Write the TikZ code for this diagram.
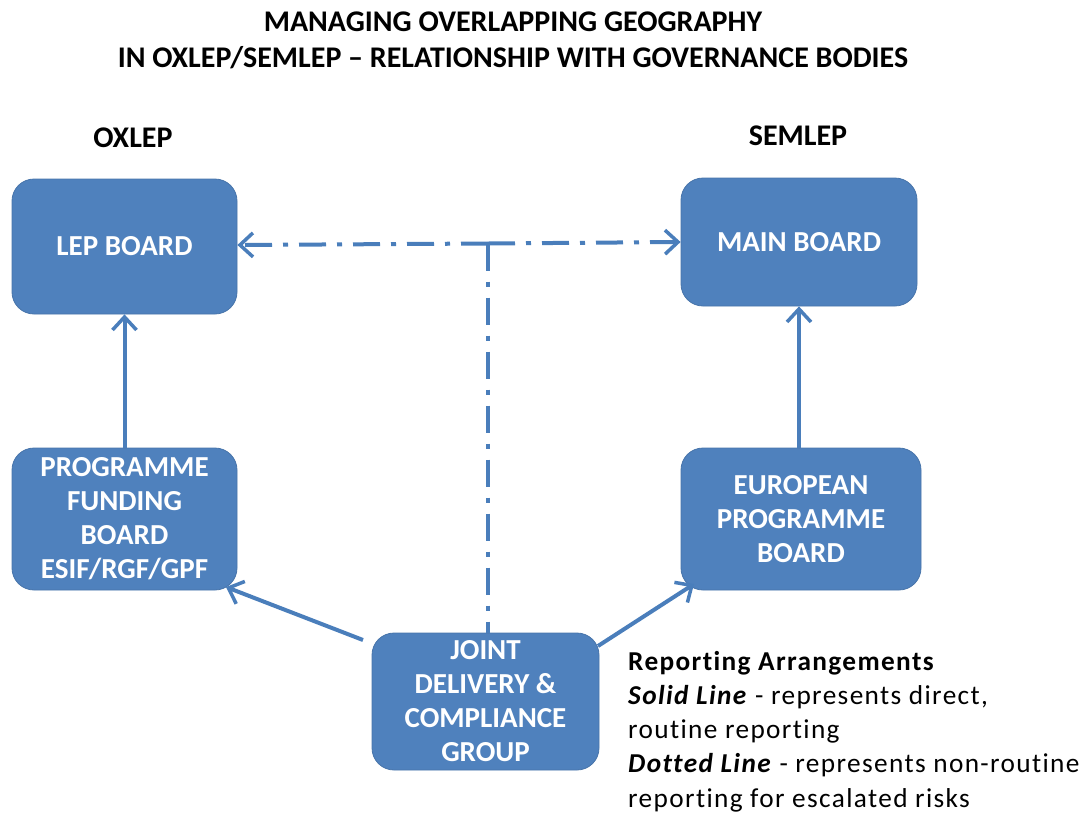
\documentclass[tikz,border=0pt]{standalone}
\usepackage{fontspec}
\setmainfont[Ligatures=NoCommon]{Carlito}
\newfontfamily\legendfamily[Ligatures=NoCommon,LetterSpace=5]{Carlito}
\usetikzlibrary{arrows.meta}
\definecolor{boxblue}{HTML}{4F81BD}
\definecolor{lineblue}{HTML}{4A7EBB}
\begin{document}
\begin{tikzpicture}[x=1pt,y=-1pt,
  board/.style={draw=boxblue!90!black, line width=0.8pt, fill=boxblue, rounded corners=22pt,
    text=white, font=\fontsize{29}{34}\selectfont\bfseries, align=center,
    minimum width=#1, inner sep=0pt},
  board/.default=225pt,
  report/.style={draw=lineblue, line width=4pt, -{Straight Barb[length=13pt,width=24pt,line width=3.5pt]}},
  escal/.style={draw=lineblue, line width=4pt, dash pattern=on 27pt off 11pt on 5pt off 11pt},
  escalarrow/.style={escal, -{Straight Barb[length=13pt,width=24pt,line width=3.5pt]}},
  heading/.style={font=\fontsize{30}{36}\selectfont\bfseries, align=center, text=black},
]
\useasboundingbox (0,0) rectangle (1088,812);

% title
\node[heading] (title) at (513,40) {MANAGING OVERLAPPING GEOGRAPHY\\IN OXLEP/SEMLEP -- RELATIONSHIP WITH GOVERNANCE BODIES};

% partnership labels
\node[heading] (oxlep) at (133,138) {OXLEP};
\node[heading] (semlep) at (798,136) {SEMLEP};

% governance bodies
\node[board, minimum height=135pt] (lep) at (124.5,246.5) {LEP BOARD};
\node[board=236pt, minimum height=128pt] (main) at (799,242) {MAIN BOARD};
\node[board, minimum height=142pt] (pfb) at (124.5,519) {PROGRAMME\\FUNDING\\BOARD\\ESIF/RGF/GPF};
\node[board=240pt, minimum height=142pt] (epb) at (801,519) {EUROPEAN\\PROGRAMME\\BOARD};
\node[board=227pt, minimum height=137pt] (jdc) at (485.5,701.5) {JOINT\\DELIVERY \&\\COMPLIANCE\\GROUP};

% routine reporting
\draw[report] (pfb.north) -- (lep.south);
\draw[report] (epb.north -| main.south) -- (main.south);
\coordinate (jdcl) at (363,640);
\coordinate (jdcr) at (598,646);
\draw[report] (jdcl) -- (226,587);
\draw[report] (jdcr) -- (694,584);

% non-routine escalation
\coordinate (junc) at (488,243.5);
\draw[escalarrow] (junc) -- (lep.east |- 0,245);
\draw[escalarrow] (junc) -- (main.west |- 0,242);
\draw[escal] (junc) -- (jdc.north -| junc);

% legend
\node[anchor=north west, align=left, inner sep=0pt,
  font=\legendfamily\fontsize{27.3}{34.2}\selectfont] (legend) at (628,651)
  {\textbf{Reporting Arrangements}\\
   \textbf{\textit{Solid Line}} - represents direct,\\
   routine reporting\\
   \textbf{\textit{Dotted Line}} - represents non-routine\\
   reporting for escalated risks};
\end{tikzpicture}
\end{document}
